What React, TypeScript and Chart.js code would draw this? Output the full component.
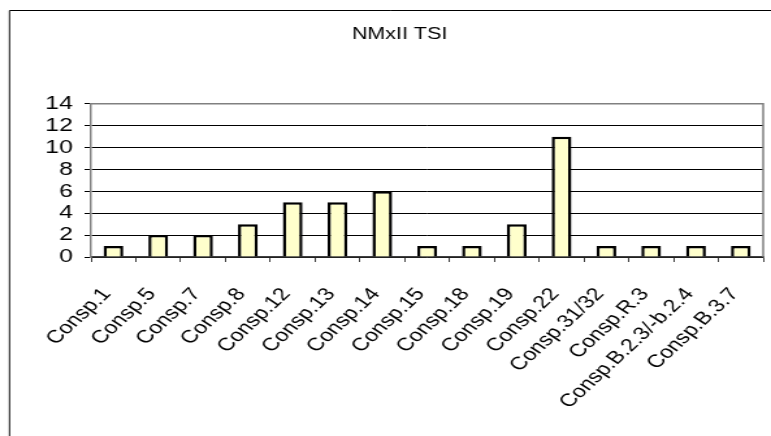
import React, { useEffect, useRef } from "react";
import { Chart, registerables } from "chart.js";

Chart.register(...registerables);

const title = "NMxII TSI";
const categories = [
  "Consp.1",
  "Consp.5",
  "Consp.7",
  "Consp.8",
  "Consp.12",
  "Consp.13",
  "Consp.14",
  "Consp.15",
  "Consp.18",
  "Consp.19",
  "Consp.22",
  "Consp.31/32",
  "Consp.R.3",
  "Consp.B.2.3/-b.2.4",
  "Consp.B.3.7",
];
const values = [1, 2, 2, 3, 5, 5, 6, 1, 1, 3, 11, 1, 1, 1, 1];
const yMin = 0;
const yMax = 14;
const yStep = 2;

const STRETCH = 1.3;
const DISPLAY_W = 771;
const DISPLAY_H = 436;
const W = Math.round(DISPLAY_W / STRETCH);
const H = DISPLAY_H;
const FONT = "'Liberation Sans', Arial, sans-serif";
const PAD_LEFT = 36 / STRETCH;

const framePlugin = {
  id: "frame",
  beforeDraw(chart: any) {
    const ctx = chart.ctx;
    ctx.save();
    ctx.strokeStyle = "#000";
    ctx.lineWidth = 1;
    ctx.beginPath();
    const x = 9.5 / STRETCH;
    ctx.moveTo(x, H);
    ctx.lineTo(x, 10.5);
    ctx.lineTo(W, 10.5);
    ctx.stroke();
    ctx.restore();
  },
  afterDatasetsDraw(chart: any) {
    const { ctx, chartArea } = chart;
    ctx.save();
    ctx.strokeStyle = "#808080";
    ctx.lineWidth = 1.5;
    ctx.beginPath();
    ctx.moveTo(chartArea.left, chartArea.top);
    ctx.lineTo(chartArea.right, chartArea.top);
    ctx.lineTo(chartArea.right, chartArea.bottom);
    ctx.stroke();
    ctx.restore();
  },
};

export default function App() {
  const ref = useRef<HTMLCanvasElement>(null);
  useEffect(() => {
    const canvas = ref.current!;
    const chart = new Chart(canvas, {
      type: "bar",
      data: {
        labels: categories,
        datasets: [
          {
            data: values,
            backgroundColor: "#FFFFCC",
            borderColor: "#000000",
            borderWidth: 2.5,
            categoryPercentage: 1,
            barPercentage: 0.44,
          },
        ],
      },
      plugins: [framePlugin],
      options: {
        responsive: false,
        animation: false,
        devicePixelRatio: 1,
        layout: { padding: { left: PAD_LEFT, right: 6, top: 0, bottom: 0 } },
        plugins: {
          legend: { display: false },
          tooltip: { enabled: false },
          title: {
            display: true,
            text: title,
            color: "#000",
            font: { family: FONT, size: 16.5, weight: "normal", lineHeight: 1.2 },
            padding: { top: 25, bottom: 59 },
          },
        },
        scales: {
          x: {
            afterFit(scale: any) {
              scale.height = 179;
              scale.paddingLeft = 0;
              scale.paddingRight = 0;
            },
            grid: {
              offset: true,
              drawOnChartArea: false,
              drawTicks: true,
              tickLength: 5,
              tickColor: "#404040",
            },
            border: { display: true, color: "#404040", width: 1.5 },
            ticks: {
              autoSkip: false,
              minRotation: 50,
              maxRotation: 50,
              padding: 22,
              labelOffset: -5,
              color: "#000",
              font: { family: FONT, size: 18 },
            },
          },
          y: {
            min: yMin,
            max: yMax,
            afterFit(scale: any) {
              scale.width = 91 / STRETCH - PAD_LEFT;
            },
            grid: {
              color: (c: any) => (c.tick && c.tick.value === yMax ? "#808080" : "#000"),
              lineWidth: 1,
              drawTicks: true,
              tickLength: 5,
              tickColor: "#000",
            },
            border: { display: true, color: "#808080", width: 1.5 },
            ticks: {
              stepSize: yStep,
              autoSkip: false,
              padding: 9,
              color: "#000",
              font: { family: FONT, size: 19 },
            },
          },
        },
      },
    });
    return () => chart.destroy();
  }, []);
  return (
    <div style={{ position: "fixed", left: 0, top: 0, width: DISPLAY_W, height: DISPLAY_H, background: "#fff" }}>
      <canvas
        ref={ref}
        width={W}
        height={H}
        style={{ width: DISPLAY_W + "px", height: DISPLAY_H + "px", display: "block" }}
      />
    </div>
  );
}
